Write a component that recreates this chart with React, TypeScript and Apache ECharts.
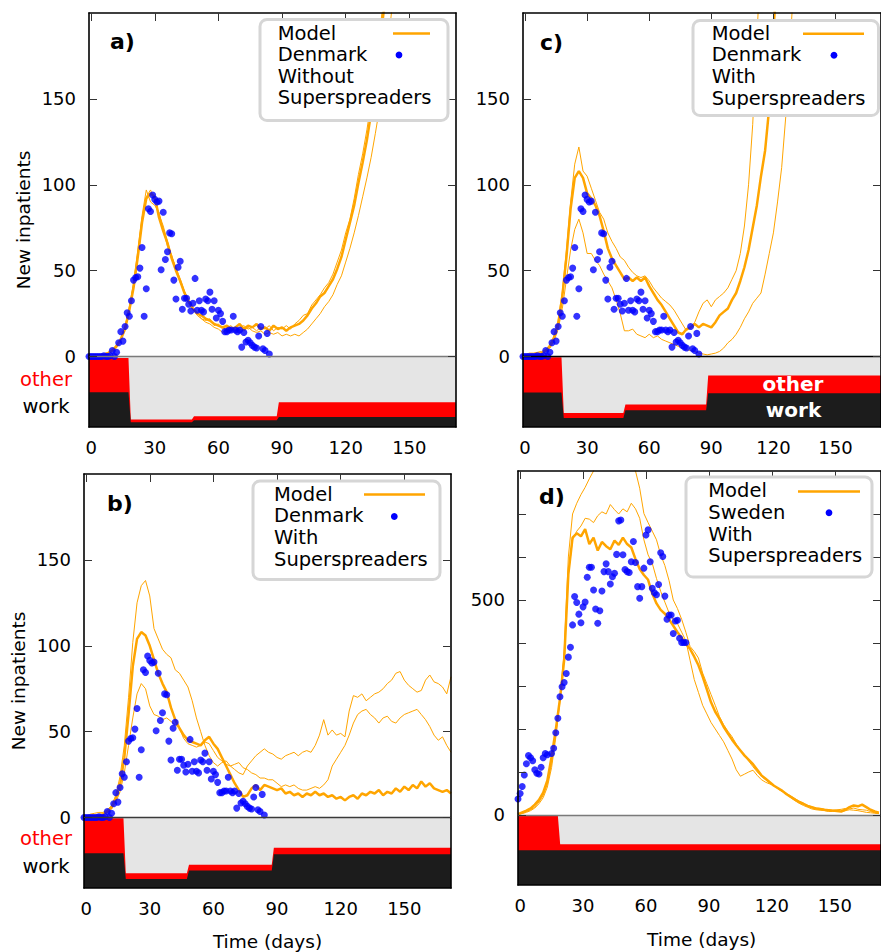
import { useEffect, useRef } from "react";
import * as echarts from "echarts";

const FONT = "DejaVu Sans";
const ORANGE = "#ffa500";
const BLUE = "#0000ff";
const RED = "#ff0000";
const BLACK_BAND = "#1c1c1c";
const GREY_BAND = "#e5e5e5";

// ---- axis ticks ----
const xTicks = [0, 30, 60, 90, 120, 150];
const dkYTicks = [0, 50, 100, 150];
const seYTicks = [0, 100, 200, 300, 400, 500, 600, 700];
const seYLabels = [0, 500];

// ---- model day grids ----
const modelDays = Array.from({ length: 87 }, (_, i) => 2 * i);
const swedenModelDays = Array.from({ length: 87 }, (_, i) => 2 * i - 1);

// ---- observed data ----
const denmarkDays = Array.from({ length: 86 }, (_, i) => i - 1);
const denmarkVals = [
  0, 0, 0, 0, 0, 0, 0, 0.5, 0, 0,
  0.5, 3.5, 0, 2.5, 8, 14.5, 9, 17.5, 25.5, 23.5,
  32.5, 44.5, 46, 46.5, 51.5, 63.5, 23.5, 39.5, 86, 84.5,
  94, 91.5, 90, 90.5, 50.5, 84, 56.5, 61, 72, 71.5,
  44.5, 33.5, 52, 55.5, 27.5, 34, 34, 30.5, 26.5, 31,
  45.5, 27, 32.5, 27, 26, 33.5, 32.5, 37.5, 27.5, 32.5,
  22.5, 27, 25, 20.5, 14.5, 14.5, 15.5, 15.5, 23.5, 15.5,
  14.5, 15.5, 5.5, 14, 8.5, 9.5, 8, 6.5, 5.5, 5,
  12, 17.5, 4.5, 3.5, 13.5, 1.5,
];

const swedenDays = [
  ...Array.from({ length: 15 }, (_, i) => i - 1),
  ...Array.from({ length: 65 }, (_, i) => i + 15),
];
const swedenVals = [
  37, 50, 66, 93, 119, 138, 133, 126, 105, 97,
  95, 111, 133, 143, 140, 143, 155, 191, 225, 275,
  298, 308, 329, 367, 390, 442, 508, 494, 467, 447,
  484, 495, 553, 576, 576, 523, 479, 446, 475, 521,
  566, 584, 566, 537, 554, 562, 606, 684, 686, 605,
  571, 566, 564, 589, 636, 587, 531, 504, 531, 574,
  651, 663, 589, 527, 517, 512, 536, 610, 601, 509,
  455, 465, 465, 422, 451, 453, 411, 401, 401, 401,
];

// ---- model curves: panel a (Without superspreaders) ----
const aThick = [
  0, 0.3, 0.6, 1.2, 2, 3.5, 6, 10, 16, 27,
  40, 58, 78, 92, 95, 93, 81, 73, 66, 57,
  50, 44, 37, 32, 28, 25, 24, 22, 21, 19,
  18, 17, 18, 16, 17, 19, 16, 18, 17, 19,
  16, 17, 15, 18, 16, 17, 15, 17, 18, 19,
  21, 24, 28, 31, 35, 37, 41, 45, 51, 58,
  68, 78, 88, 101, 113, 126, 142, 160, 180, 202,
  225, 250, 275, 300, 330, 360, 390, 420, 450, 480,
  510, 540, 570, 600, 630, 660, 690,
];
const aThinA = [
  0, 0.4, 0.8, 1.5, 2.5, 4, 7, 11, 18, 29,
  43, 62, 82, 97, 90, 88, 84, 74, 64, 59,
  51, 43, 38, 31, 27, 26, 22, 21, 22, 18,
  19, 16, 17, 18, 15, 17, 18, 16, 17, 15,
  17, 16, 18, 15, 17, 16, 18, 16, 19, 21,
  24, 25, 30, 33, 36, 40, 43, 48, 55, 62,
  72, 80, 92, 106, 118, 132, 148, 166, 188, 210,
  235, 260, 285, 310, 340, 370, 400, 430, 460, 490,
  520, 550, 580, 610, 640, 670, 700,
];
const aThinB = [
  0, 0.2, 0.5, 1, 2, 3.5, 6, 10, 17, 28,
  42, 60, 80, 93, 97, 91, 83, 76, 67, 58,
  52, 45, 38, 33, 28, 24, 22, 20, 19, 17,
  16, 14, 16, 15, 17, 16, 15, 17, 15, 14,
  15, 13, 14, 13, 14, 12, 13, 12, 13, 12,
  14, 16, 19, 22, 25, 29, 32, 36, 42, 47,
  55, 63, 72, 82, 93, 104, 116, 130, 145, 162,
  182, 205, 230, 255, 280, 305, 330, 355, 380, 405,
  430, 455, 480, 505, 530, 555, 580,
];

// ---- panel b (Denmark, with superspreaders, reopened) ----
const bThick = [
  0.5, 1, 1, 1.5, 2, 3.5, 6, 11, 19, 35,
  60, 88, 104, 108, 106, 100, 92, 84, 78, 73,
  64, 57, 52, 48, 45, 44, 43, 42, 45, 47,
  43, 40, 35, 30, 25, 20, 16, 12, 13, 17,
  19, 16, 19, 18, 17, 16, 17, 14, 15, 13,
  14, 12, 14, 13, 15, 13, 14, 12, 13, 11,
  12, 10, 12, 13, 11, 14, 13, 15, 14, 16,
  13, 15, 14, 17, 15, 18, 16, 19, 17, 21,
  18, 20, 17, 16, 15, 16, 14,
];
const bThinHigh = [
  1, 2, 2.5, 3, 3, 4.5, 7, 13, 24, 42,
  70, 102, 125, 135, 138, 129, 110, 104, 98, 95,
  93, 86, 84, 80, 76, 68, 58, 50, 42, 36,
  32, 30, 32, 33, 30, 28, 26, 25, 30, 33,
  36, 38, 40, 38, 37, 35, 34, 36, 37, 38,
  36, 38, 39, 38, 42, 48, 57, 48, 51, 48,
  49, 47, 62, 71, 70, 72, 68, 70, 72, 73,
  75, 78, 80, 84, 85, 80, 77, 75, 73, 74,
  80, 83, 79, 78, 76, 72, 82,
];
const bThinLow = [
  0.5, 1, 1, 1.5, 2, 3, 5, 9, 15, 26,
  42, 58, 72, 78, 75, 65, 60, 59, 57, 58,
  56, 54, 52, 46, 43, 42, 41, 42, 44, 43,
  39, 35, 33, 31, 30, 31, 32, 29, 28, 26,
  25, 23, 23, 22, 22, 20, 18, 19, 18, 19,
  17, 16, 16, 17, 18, 17, 19, 22, 30, 34,
  38, 42, 48, 55, 60, 62, 63, 60, 58, 55,
  58, 59, 56, 55, 58, 60, 61, 62, 63, 60,
  57, 53, 48, 45, 47, 42, 38,
];

// ---- panel c (Denmark, with superspreaders) ----
const cThick = [
  0.5, 1, 1, 1.5, 2, 3.5, 6, 11, 19, 35,
  58, 86, 104, 108, 104, 95, 92, 88, 82, 73,
  63, 57, 53, 49, 45, 46, 44, 46, 44, 46,
  41, 37, 33, 30, 26, 22, 18, 14, 13, 16,
  17, 19, 17, 19, 18, 17, 20, 24, 26, 28,
  33, 37, 44, 52, 62, 75, 88, 105, 120, 145,
  190, 225, 255, 285, 315, 345, 375, 405, 435, 465,
  495, 525, 555, 585, 615, 645, 675, 705, 735, 765,
  795, 825, 855, 885, 915, 945, 975,
];
const cThinHigh = [
  1, 2, 2, 2.5, 3, 4, 7, 12, 21, 38,
  62, 90, 112, 122, 108, 105, 98, 91, 84, 80,
  72, 67, 63, 58, 56, 52, 49, 47, 46, 47,
  44, 40, 37, 34, 32, 30, 27, 23, 19, 15,
  17, 20, 26, 31, 33, 29, 33, 35, 37, 40,
  45, 50, 60, 76, 100, 135, 185, 235, 280, 320,
  360, 400, 440, 480, 520, 560, 600, 640, 680, 720,
  760, 800, 840, 880, 920, 960, 1000, 1040, 1080, 1120,
  1160, 1200, 1240, 1280, 1320, 1360, 1400,
];
const cThinLow = [
  0.5, 0.5, 1, 1, 2, 3, 5, 9, 16, 28,
  45, 62, 74, 80, 72, 60, 60, 56, 53, 48,
  44, 40, 33, 25, 15, 15, 16, 13, 12, 11,
  13, 11, 12, 10, 9, 8, 7, 6, 5, 4,
  3.5, 3, 2, 1.5, 1, 1.5, 2, 3, 5, 8,
  10, 13, 17, 22, 26, 31, 34, 37, 48, 60,
  72, 90, 110, 140, 180, 220, 260, 300, 340, 380,
  420, 460, 500, 540, 580, 620, 660, 700, 740, 780,
  820, 860, 900, 940, 980, 1020, 1060,
];

// ---- panel d (Sweden, with superspreaders) ----
const dThick = [
  2, 6, 10, 15, 24, 35, 52, 80, 135, 198,
  270, 360, 560, 645, 655, 648, 665, 630, 645, 615,
  635, 625, 618, 638, 628, 645, 630, 622, 595, 572,
  558, 547, 515, 492, 477, 468, 455, 440, 425, 412,
  398, 386, 368, 348, 322, 292, 262, 240, 224, 205,
  190, 175, 162, 150, 138, 128, 118, 105, 92, 84,
  76, 68, 62, 56, 48, 42, 36, 30, 26, 21,
  18, 15, 14, 12, 11, 10, 9, 8, 12, 18,
  22, 20, 24, 18, 12, 8, 5,
];
const dThinHigh = [
  1, 4, 8, 12, 18, 30, 45, 72, 120, 190,
  270, 380, 600, 700, 725, 745, 762, 782, 800, 830,
  860, 880, 900, 890, 870, 850, 830, 810, 800, 760,
  701, 680, 660, 640, 605, 580, 545, 500, 480, 455,
  425, 392, 380, 365, 330, 305, 280, 255, 229, 210,
  195, 182, 165, 150, 138, 125, 112, 100, 90, 82,
  74, 68, 62, 55, 50, 44, 38, 32, 27, 22,
  19, 16, 15, 13, 12, 11, 12, 13, 15, 14,
  16, 13, 12, 11, 8, 5, 4,
];
const dThinMid = [
  1, 3, 6, 10, 16, 26, 40, 65, 110, 180,
  265, 370, 560, 640, 660, 672, 690, 688, 680, 696,
  705, 700, 722, 710, 700, 712, 705, 725, 712, 690,
  640, 605, 585, 550, 520, 495, 470, 455, 445, 425,
  405, 360, 315, 285, 255, 235, 215, 200, 185, 170,
  150, 130, 105, 90, 95, 100, 104, 92, 82, 76,
  72, 68, 60, 54, 48, 40, 33, 27, 22, 18,
  14, 12, 11, 10, 8, 8, 9, 8, 10, 12,
  11, 10, 8, 6, 5, 4, 3,
];

// ---- activity bands (fraction of the band strip height) ----
const bandDays = [-1, 17.6, 18.7, 47.5, 48.5, 87.5, 88.5, 172];
const aOther = [0.98, 0.98, 0.105, 0.105, 0.152, 0.152, 0.35, 0.35];
const aWork = [0.495, 0.495, 0.066, 0.066, 0.095, 0.095, 0.143, 0.143];
const bOther = [0.99, 0.99, 0.21, 0.21, 0.33, 0.33, 0.571, 0.571];
const bWork = [0.495, 0.495, 0.127, 0.127, 0.25, 0.25, 0.48, 0.48];
const cOther = [0.99, 0.99, 0.2, 0.2, 0.32, 0.32, 0.73, 0.73];
const cWork = [0.49, 0.49, 0.127, 0.127, 0.237, 0.237, 0.48, 0.48];
const dBandDays = [-1, 18, 19.1, 172];
const dOther = [0.99, 0.99, 0.58, 0.58];
const dWork = [0.495, 0.495, 0.495, 0.495];

const zip = (xs: number[], ys: number[]) => xs.map((x, i) => [x, ys[i]]);

const panels = [
  {
    grid: { left: 89, top: 13, width: 367, height: 414 },
    ymin: -41, ymax: 200, yTicks: dkYTicks, yLabels: dkYTicks,
    days: modelDays, thin: [aThinA, aThinB], thick: aThick,
    bandX: bandDays, other: aOther, work: aWork,
    dotsX: denmarkDays, dotsY: denmarkVals, zeroColor: "#7a7a7a",
  },
  {
    grid: { left: 84, top: 474, width: 367, height: 414 },
    ymin: -41, ymax: 200, yTicks: dkYTicks, yLabels: dkYTicks,
    days: modelDays, thin: [bThinHigh, bThinLow], thick: bThick,
    bandX: bandDays, other: bOther, work: bWork,
    dotsX: denmarkDays, dotsY: denmarkVals, zeroColor: "#3a3a3a",
  },
  {
    grid: { left: 523, top: 13, width: 367, height: 414 },
    ymin: -41, ymax: 200, yTicks: dkYTicks, yLabels: dkYTicks,
    days: modelDays, thin: [cThinHigh, cThinLow], thick: cThick,
    bandX: bandDays, other: cOther, work: cWork,
    dotsX: denmarkDays, dotsY: denmarkVals, zeroColor: "#000000",
  },
  {
    grid: { left: 518, top: 471, width: 367, height: 414 },
    ymin: -163, ymax: 800, yTicks: seYTicks, yLabels: seYLabels,
    days: swedenModelDays, thin: [dThinHigh, dThinMid], thick: dThick,
    bandX: dBandDays, other: dOther, work: dWork,
    dotsX: swedenDays, dotsY: swedenVals, zeroColor: "#7a7a7a",
  },
];

const legends = [
  { box: [260, 19.5, 188, 101], tx: 277.7, rows: [33.3, 54.5, 76, 97.5], labels: ["Model", "Denmark", "Without", "Superspreaders"], line: [393, 430, 33.5], dot: [399, 55] },
  { box: [693, 20.5, 185.5, 95], tx: 711.7, rows: [33.3, 54.5, 76.5, 98], labels: ["Model", "Denmark", "With", "Superspreaders"], line: [803, 864, 33.7], dot: [834, 55.3] },
  { box: [253, 481, 187, 98.5], tx: 274, rows: [494.3, 515.5, 537.5, 559.5], labels: ["Model", "Denmark", "With", "Superspreaders"], line: [364, 425, 494.5], dot: [394.3, 516.5] },
  { box: [686, 477, 186, 100], tx: 708.3, rows: [490.8, 512, 534, 555.7], labels: ["Model", "Sweden", "With", "Superspreaders"], line: [798, 860, 491.5], dot: [829, 512.7] },
];

function buildOption() {
  const grid: any[] = [];
  const xAxis: any[] = [];
  const yAxis: any[] = [];
  const series: any[] = [];
  const axisLine = { show: true, onZero: false, lineStyle: { color: "#000", width: 1.6 } };
  const tickStyle = { color: "#333", width: 1 };
  const labelBase = { color: "#000", fontSize: 18, fontFamily: FONT };

  panels.forEach((p, g) => {
    grid.push({ ...p.grid, show: false });
    xAxis.push({
      type: "value", gridIndex: g, position: "bottom", min: -1, max: 172, z: 5,
      axisLine, axisTick: { show: false }, splitLine: { show: false },
      axisLabel: { ...labelBase, customValues: xTicks, margin: 11 },
    });
    xAxis.push({
      type: "value", gridIndex: g, position: "top", min: -1, max: 172, z: 5,
      axisLine, splitLine: { show: false }, axisLabel: { show: false },
      axisTick: { show: true, inside: true, length: 8, customValues: xTicks, lineStyle: tickStyle },
    });
    yAxis.push({
      type: "value", gridIndex: g, position: "left", min: p.ymin, max: p.ymax, z: 5,
      axisLine, splitLine: { show: false },
      axisTick: { show: true, inside: true, length: 8, customValues: p.yTicks, lineStyle: tickStyle },
      axisLabel: { ...labelBase, customValues: p.yLabels, margin: 13 },
    });
    yAxis.push({
      type: "value", gridIndex: g, position: "right", min: p.ymin, max: p.ymax, z: 5,
      axisLine, splitLine: { show: false }, axisLabel: { show: false },
      axisTick: { show: true, inside: true, length: 8, customValues: p.yTicks, lineStyle: tickStyle },
    });
    const ax = { xAxisIndex: 2 * g, yAxisIndex: 2 * g };
    const lvl = (f: number) => p.ymin * (1 - f);
    const area = (vals: number[], color: string, extra: any = {}) => ({
      type: "line", ...ax, data: zip(p.bandX, vals), symbol: "none", silent: true,
      lineStyle: { width: 0 }, areaStyle: { color, opacity: 1, origin: "start" }, z: 1, ...extra,
    });
    series.push(area(p.bandX.map(() => 0), GREY_BAND));
    series.push(area(p.other.map(lvl), RED));
    series.push(area(p.work.map(lvl), BLACK_BAND, {
      markLine: {
        silent: true, symbol: "none", label: { show: false },
        lineStyle: { color: p.zeroColor, width: 1.3, type: "solid" },
        data: [{ yAxis: 0 }],
      },
    }));
    p.thin.forEach((c) =>
      series.push({
        type: "line", ...ax, data: zip(p.days, c), symbol: "none", silent: true,
        lineStyle: { color: ORANGE, width: 1 }, z: 3,
      })
    );
    series.push({
      type: "line", ...ax, data: zip(p.days, p.thick), symbol: "none", silent: true,
      lineStyle: { color: ORANGE, width: 2.5 }, z: 3,
    });
    series.push({
      type: "scatter", ...ax, data: zip(p.dotsX, p.dotsY), symbolSize: 7, silent: true,
      itemStyle: { color: BLUE }, z: 4,
    });
  });

  const graphic: any[] = [];
  const txt = (text: string, x: number, y: number, o: any = {}) => ({
    type: "text", x, y, z: 100, rotation: o.rotation || 0,
    style: {
      text, fill: o.fill || "#000", fontSize: o.fontSize || 18.5, fontFamily: FONT,
      fontWeight: o.fontWeight || "normal", align: o.align || "center", verticalAlign: "middle",
      lineHeight: o.lineHeight || undefined,
    },
  });
  graphic.push(txt("New inpatients", 23.5, 220, { rotation: Math.PI / 2 }));
  graphic.push(txt("New inpatients", 18.5, 681, { rotation: Math.PI / 2 }));
  graphic.push(txt("Time (days)", 267.5, 941));
  graphic.push(txt("Time (days)", 701.7, 939));
  graphic.push(txt("other", 46, 379, { fill: RED, fontSize: 19.5, lineHeight: 20 }));
  graphic.push(txt("work", 46, 406.5, { fontSize: 19.5, lineHeight: 20 }));
  graphic.push(txt("other", 46, 838.5, { fill: RED, fontSize: 19.5, lineHeight: 20 }));
  graphic.push(txt("work", 46, 866, { fontSize: 19.5, lineHeight: 20 }));
  graphic.push(txt("other", 793, 384, { fill: "#fff", fontSize: 20, fontWeight: "bold", lineHeight: 20 }));
  graphic.push(txt("work", 793.5, 409.5, { fill: "#fff", fontSize: 20, fontWeight: "bold", lineHeight: 20 }));
  graphic.push(txt("a)", 110, 41, { fontSize: 22, fontWeight: "bold", align: "left" }));
  graphic.push(txt("c)", 540, 42, { fontSize: 22, fontWeight: "bold", align: "left" }));
  graphic.push(txt("b)", 107, 503, { fontSize: 22, fontWeight: "bold", align: "left" }));
  graphic.push(txt("d)", 539, 496, { fontSize: 22, fontWeight: "bold", align: "left" }));

  legends.forEach((l) => {
    graphic.push({
      type: "rect", z: 99,
      shape: { x: l.box[0], y: l.box[1], width: l.box[2], height: l.box[3], r: 7 },
      style: { fill: "#fff", stroke: "#d6d6d6", lineWidth: 3 },
    });
    l.labels.forEach((s, i) =>
      graphic.push(txt(s, l.tx, l.rows[i], { fontSize: 19.5, align: "left", lineHeight: 20 }))
    );
    graphic.push({
      type: "line", z: 100,
      shape: { x1: l.line[0], y1: l.line[2], x2: l.line[1], y2: l.line[2] },
      style: { stroke: ORANGE, lineWidth: 2.5 },
    });
    graphic.push({
      type: "circle", z: 100,
      shape: { cx: l.dot[0], cy: l.dot[1], r: 3.4 },
      style: { fill: BLUE },
    });
  });

  return { animation: false, backgroundColor: "#fff", grid, xAxis, yAxis, series, graphic };
}

export default function App() {
  const ref = useRef<HTMLDivElement>(null);
  useEffect(() => {
    const chart = echarts.init(ref.current!, null, { renderer: "svg" });
    chart.setOption(buildOption() as any);
    return () => chart.dispose();
  }, []);
  return (
    <div
      ref={ref}
      style={{ position: "absolute", left: 0, top: 0, width: 881, height: 952, background: "#fff" }}
    />
  );
}
